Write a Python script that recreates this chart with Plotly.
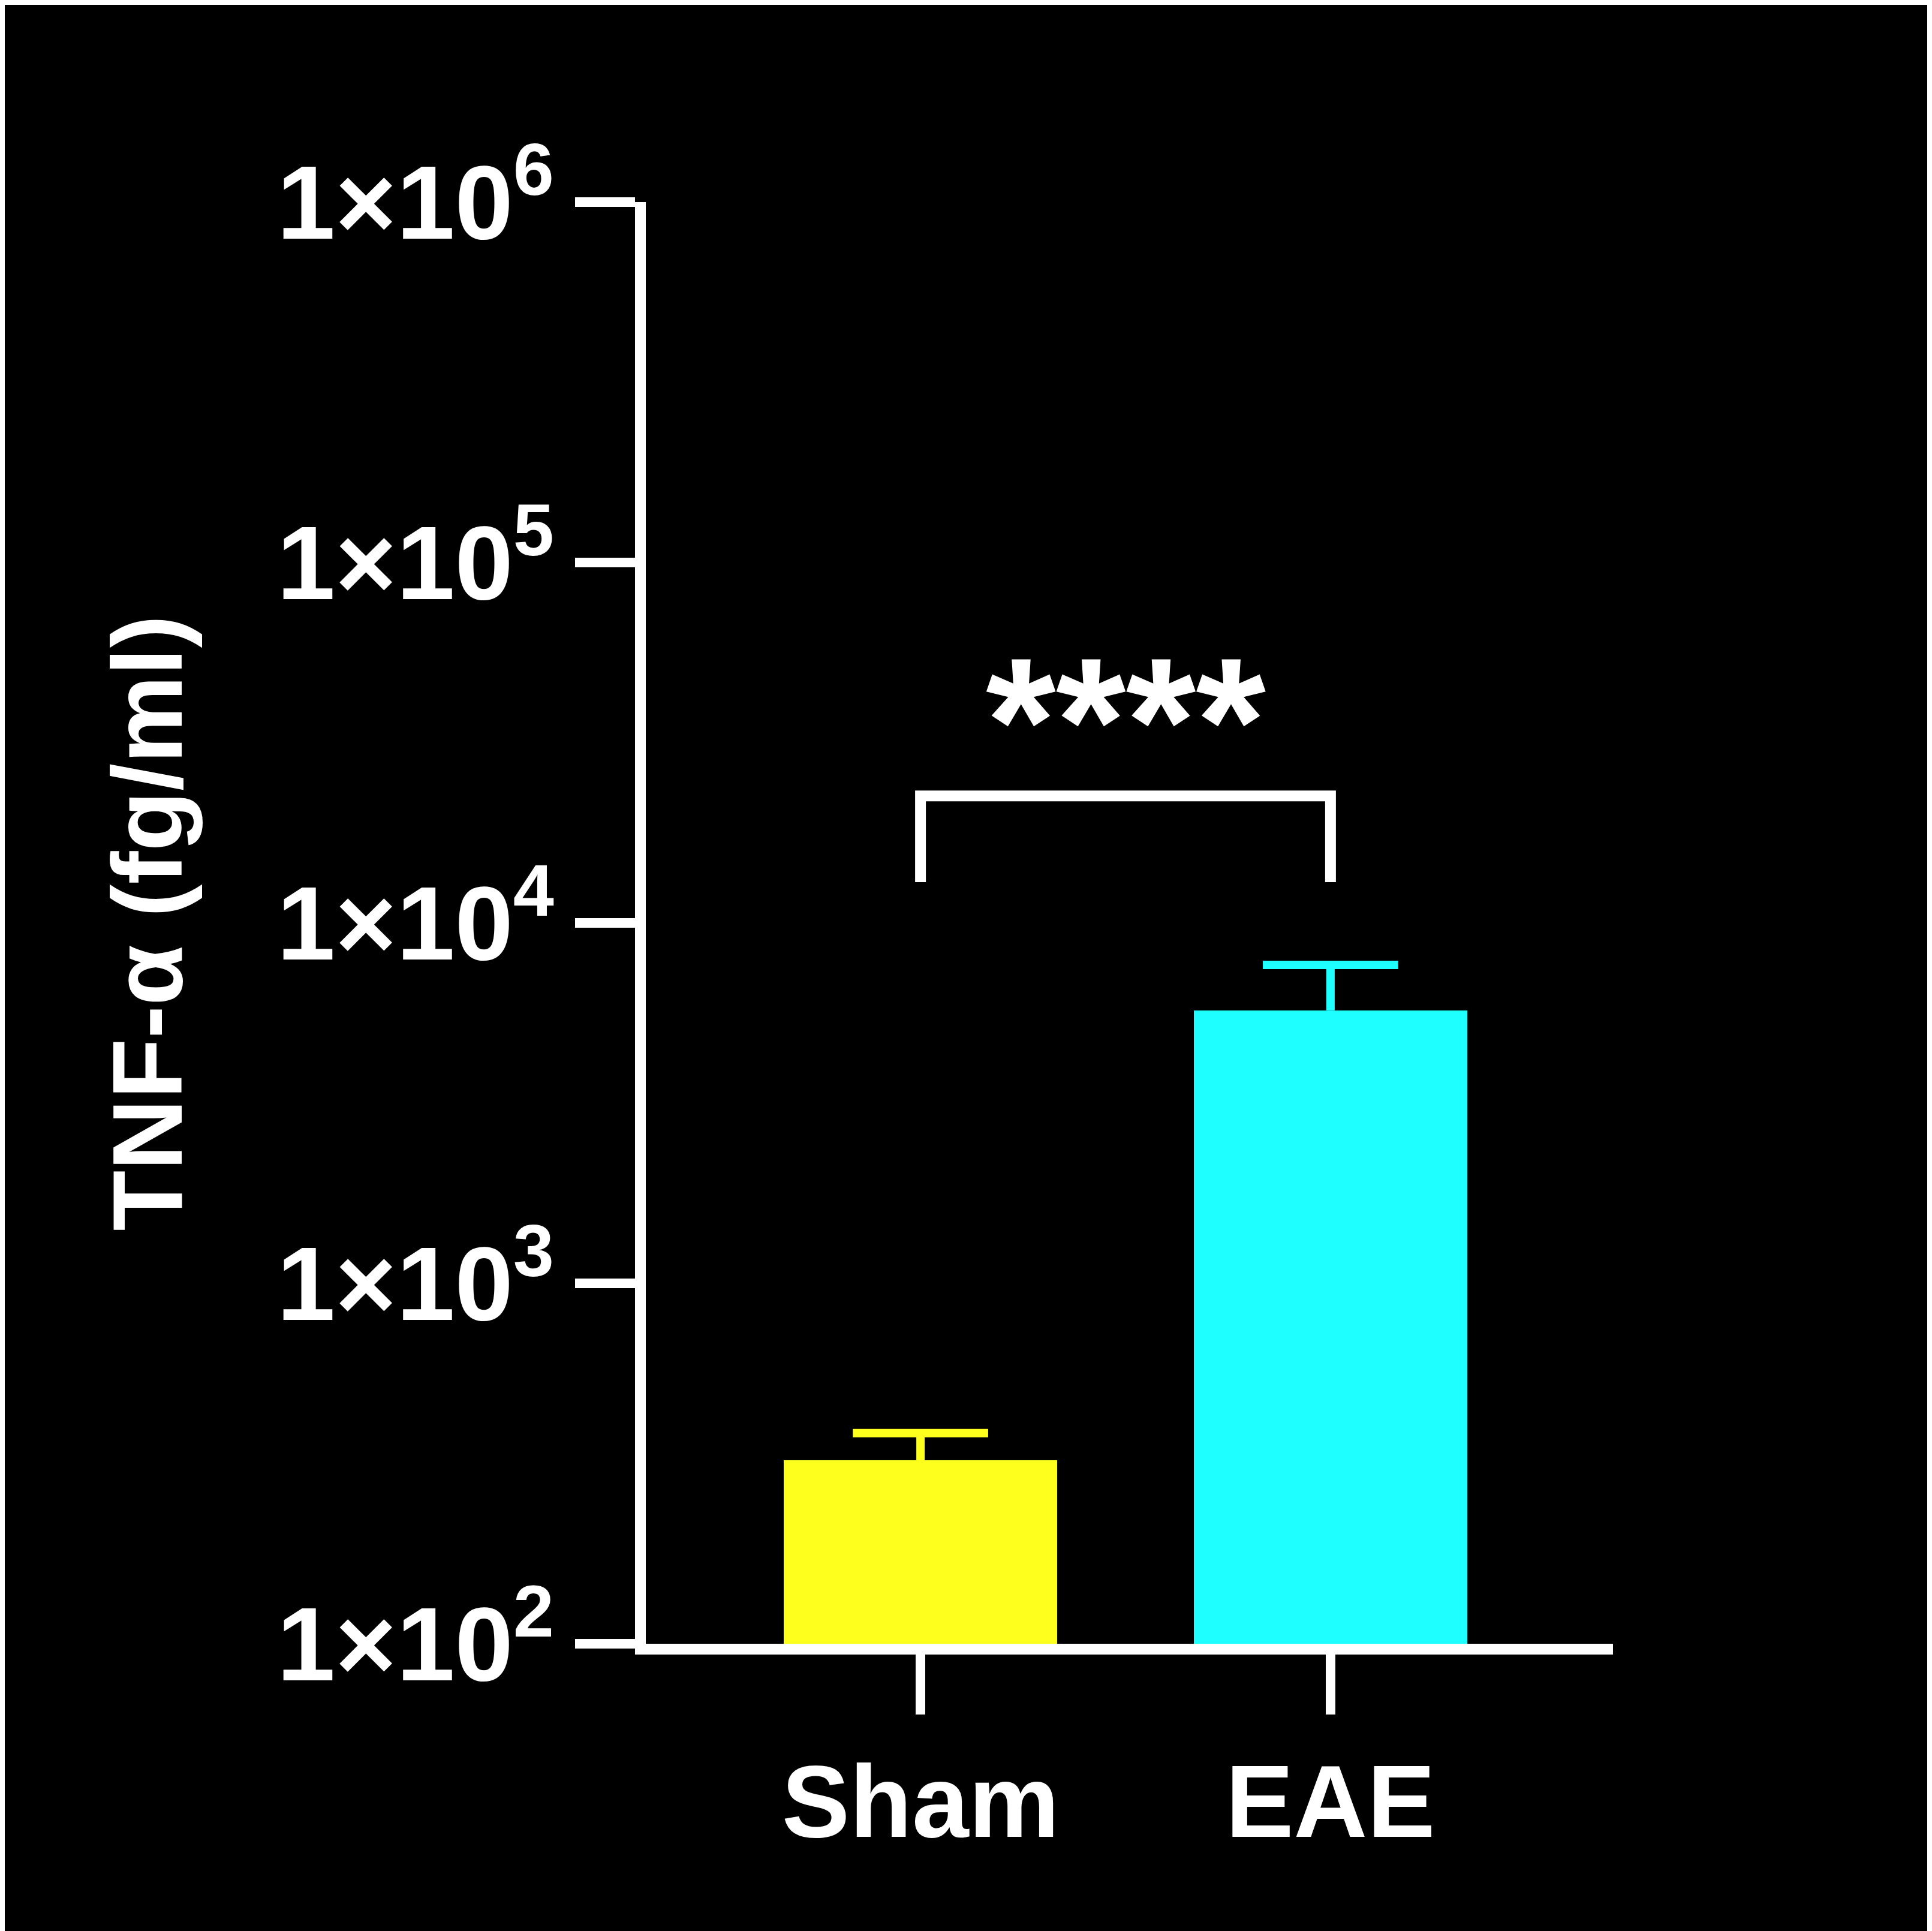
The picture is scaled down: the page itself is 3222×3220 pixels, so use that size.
import plotly.graph_objects as go

groups = ["Sham", "EAE"]
means = [323, 5720]
errs = [61, 1930]
colors = ["#ffff1e", "#1effff"]
tick_vals = [100, 1000, 10000, 100000, 1000000]
tick_text = ["1×10<sup>2</sup>", "1×10<sup>3</sup>", "1×10<sup>4</sup>", "1×10<sup>5</sup>", "1×10<sup>6</sup>"]
bracket_x = [0, 0, 1, 1]
bracket_y = [12970, 22500, 22500, 12970]
cap_half = 0.165

fig = go.Figure()
for i, g in enumerate(groups):
    fig.add_trace(go.Bar(x=[i], y=[means[i]], width=0.667, marker_color=colors[i],
                         marker_line_width=0, showlegend=False))
    # error bar: stem + cap, upper side only
    top = means[i] + errs[i]
    fig.add_trace(go.Scatter(x=[i, i, None, i - cap_half, i + cap_half],
                             y=[means[i], top, None, top, top], mode="lines",
                             line=dict(color=colors[i], width=14), showlegend=False))

fig.add_trace(go.Scatter(x=bracket_x, y=bracket_y, mode="lines",
                         line=dict(color="white", width=18), showlegend=False))

fig.add_annotation(x=0.5, xref="x", y=0.64, yref="paper", text="<b>****</b>",
                   showarrow=False, font=dict(size=300, color="white", family="Liberation Sans"),
                   yanchor="middle")

font = dict(family="Liberation Sans", color="white", size=150)
fig.update_layout(
    width=3222, height=3220, paper_bgcolor="black", plot_bgcolor="black",
    margin=dict(l=1069, r=540, t=329, b=487),
    font=font, bargap=0,
    xaxis=dict(range=[-0.670, 1.689], tickvals=[0, 1], ticktext=["<b>Sham</b>", "<b>EAE</b>"],
               showline=True, linecolor="white", linewidth=18, ticks="outside",
               ticklen=100, tickwidth=16, tickcolor="white", showgrid=False, zeroline=False,
               tickfont=dict(size=170, family="Liberation Sans", color="white")),
    yaxis=dict(type="log", range=[2, 6], tickvals=tick_vals,
               ticktext=["<b>" + t + "</b>" for t in tick_text],
               showline=True, linecolor="white", linewidth=18, ticks="outside",
               ticklen=100, tickwidth=16, tickcolor="white", showgrid=False, zeroline=False,
               tickfont=dict(size=175, family="Liberation Sans", color="white"),
               title=dict(text="<b>TNF-α (fg/ml)</b>", standoff=110,
                          font=dict(size=165, family="Liberation Sans", color="white"))),
)
fig.write_html("out.html")
